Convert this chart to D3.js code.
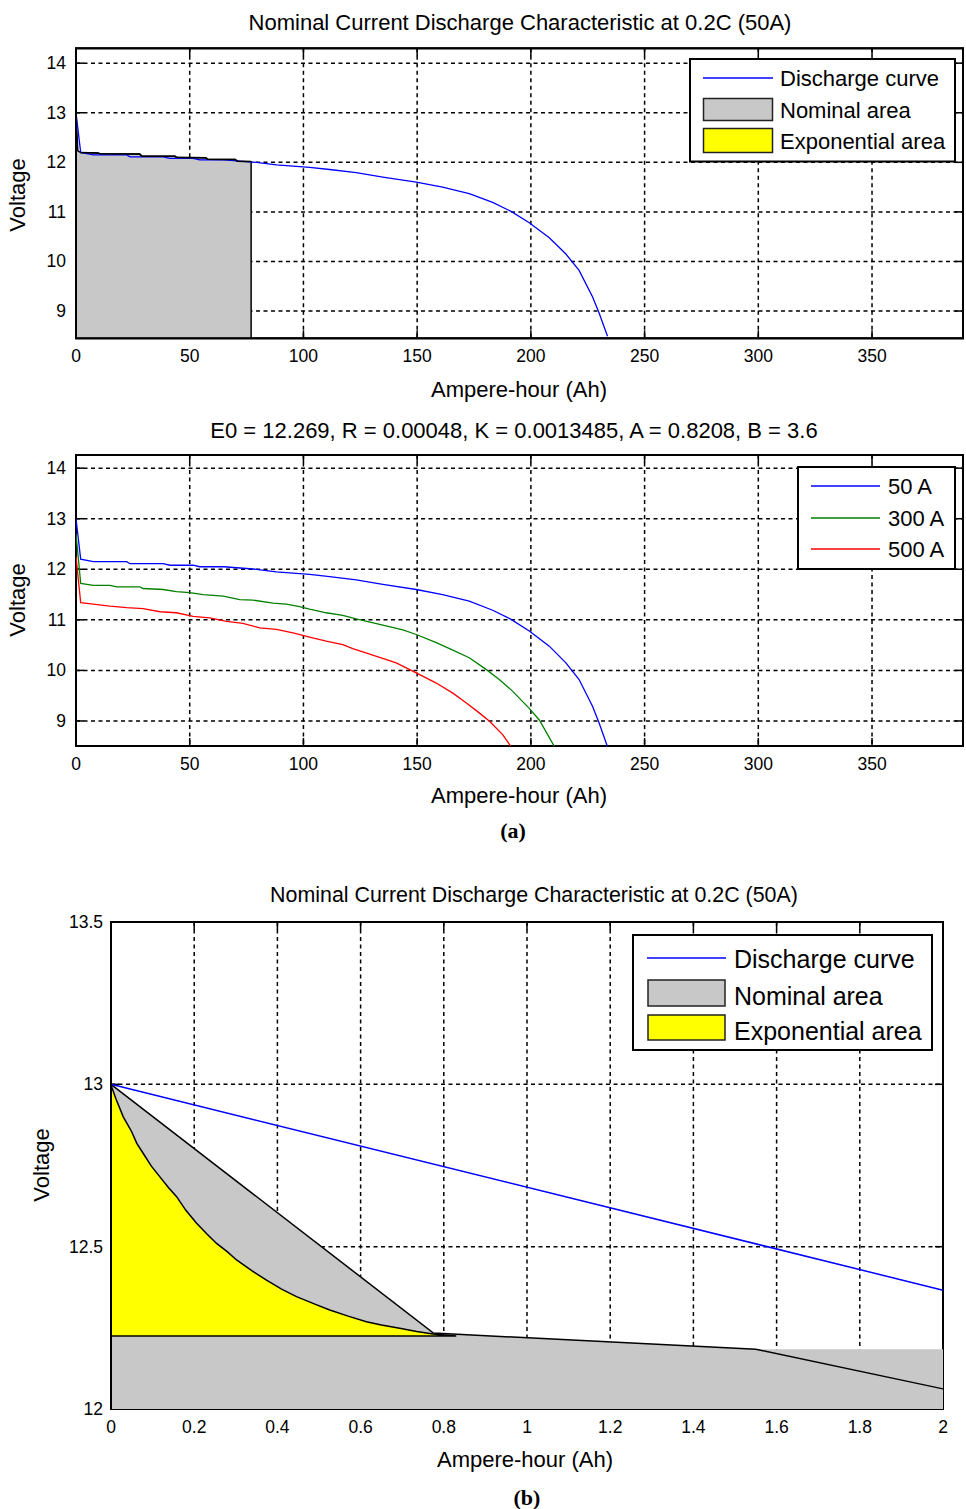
<!DOCTYPE html>
<html><head><meta charset="utf-8">
<script src="https://cdn.jsdelivr.net/npm/d3@7"></script>
<style>
body{margin:0;background:#fff;}
text{font-family:"Liberation Sans",Arial,sans-serif;fill:#000;}
</style></head>
<body>
<svg id="c" width="966" height="1509"></svg>
<script>
// ---------------- DATA ----------------
const titleA1 = "Nominal Current Discharge Characteristic at 0.2C (50A)";
const titleA2 = "E0 = 12.269, R = 0.00048, K = 0.0013485, A = 0.8208, B = 3.6";
const titleB = "Nominal Current Discharge Characteristic at 0.2C (50A)";
const xLabel = "Ampere-hour (Ah)";
const yLabel = "Voltage";
const xTicksA = [0,50,100,150,200,250,300,350];
const yTicksA = [9,10,11,12,13,14];
const xTicksB = [0,0.2,0.4,0.6,0.8,1,1.2,1.4,1.6,1.8,2];
const yTicksB = [12,12.5,13,13.5];
const legendA1 = ["Discharge curve","Nominal area","Exponential area"];
const legendA2 = ["50 A","300 A","500 A"];

// discharge curve at 50 A (Ah, V)
const ah50 = [0,2.06,7.6,22.3,23.7,38.3,41.3,51.5,54.4,65.1,79.3,88.1,102.7,111.5,123.2,134.9,149.6,161.2,172.9,183.2,191.3,199.3,208.1,215.4,221.2,227.1,230,233.7];
const v50  = [13.0,12.2,12.15,12.15,12.11,12.11,12.08,12.08,12.05,12.05,12.0,11.95,11.90,11.855,11.79,11.70,11.60,11.50,11.37,11.19,11.01,10.78,10.48,10.15,9.82,9.29,8.96,8.49];
// 300 A
const ah300 = [0,2.06,7.6,14.9,17.9,28.1,29.5,38.3,44.2,50,55.9,64.7,72,77.8,86.6,92.5,98.3,102.7,110,117.3,123.2,133.5,143.7,149.6,158.4,165.7,172.9,180.3,186.1,191.9,199.3,203.7,210.4];
const v300  = [12.7,11.72,11.68,11.68,11.65,11.65,11.62,11.60,11.56,11.54,11.50,11.47,11.40,11.39,11.33,11.31,11.26,11.21,11.14,11.09,11.02,10.91,10.80,10.71,10.55,10.40,10.25,10.02,9.82,9.59,9.25,9.02,8.49];
// 500 A
const ah500 = [0,2.06,7.6,14.9,22.3,29.5,36.9,44.2,51.5,58.8,66.2,73.4,80.8,88.1,95.4,102.7,110,117.3,121.7,133.5,140.8,149.6,158.4,165.7,171.5,177.3,181.7,187.6,191.3];
const v500  = [12.25,11.34,11.31,11.27,11.24,11.22,11.16,11.14,11.07,11.04,10.97,10.93,10.84,10.81,10.74,10.66,10.58,10.51,10.43,10.26,10.15,9.95,9.75,9.55,9.36,9.16,9.0,8.73,8.49];
// nominal area outline (panel a, top)
const ahNomA = [0,0.8,2,9.5,10.5,28,29,43.5,44.5,57,58,70,71,77];
const vNomA  = [13,12.23,12.2,12.19,12.175,12.17,12.12,12.12,12.095,12.09,12.06,12.055,12.02,12.014];
// zoomed panel (b)
const ahBlueB = [0,2];
const vBlueB  = [13,12.366];
const ahNomCurveB = [0,0.775,1.55,2];
const vNomCurveB  = [13,12.234,12.184,12.062];
const ahNomFillB = [0,0.775,1.55,2];
const vNomFillB  = [13,12.234,12.184,12.184];
const ahExpB = [0,0.012,0.0295,0.0497,0.062,0.0776,0.097,0.1176,0.138,0.1577,0.18,0.2058,0.23,0.2538,0.28,0.3018,0.34,0.3738,0.41,0.4459,0.49,0.5258,0.57,0.6139,0.65,0.6939,0.735,0.7738,0.83];
const vExpB  = [12.998,12.955,12.900,12.854,12.818,12.787,12.748,12.715,12.682,12.654,12.612,12.572,12.540,12.510,12.484,12.459,12.425,12.397,12.369,12.346,12.323,12.305,12.286,12.269,12.259,12.249,12.239,12.231,12.225];
const vExpBase = 12.225;

// --------------- DRAWING ---------------
const svg = d3.select("#c");
svg.append("rect").attr("width",966).attr("height",1509).attr("fill","#fff");
const FONT_TICK = 17.5, FONT_LAB = 22;
const zip = (a,b)=>a.map((d,i)=>[d,b[i]]);

function panel(cfg){
  const g = svg.append("g");
  const x = d3.scaleLinear().domain(cfg.xd).range(cfg.xr);
  const y = d3.scaleLinear().domain(cfg.yd).range(cfg.yr);
  const [x0,x1] = cfg.xr, [y0,y1] = [cfg.yr[1], cfg.yr[0]];
  const id = "clip"+cfg.id;
  svg.append("clipPath").attr("id",id).append("rect")
     .attr("x",x0).attr("y",y0).attr("width",x1-x0).attr("height",y1-y0);
  // grid
  const grid = g.append("g").attr("stroke","#000").attr("stroke-width",1.5).attr("stroke-dasharray","4,3.5");
  cfg.xt.filter(v=>x(v)>x0+2 && x(v)<x1-2).forEach(v=>grid.append("line").attr("x1",x(v)).attr("x2",x(v)).attr("y1",y0).attr("y2",y1));
  cfg.yt.filter(v=>y(v)>y0+2 && y(v)<y1-2).forEach(v=>grid.append("line").attr("x1",x0).attr("x2",x1).attr("y1",y(v)).attr("y2",y(v)));
  // box + ticks
  const box = g.append("g").attr("stroke","#000").attr("stroke-width",2).attr("fill","none");
  box.append("rect").attr("x",x0).attr("y",y0).attr("width",x1-x0).attr("height",y1-y0);
  const tl = 8;
  const tk = g.append("g").attr("stroke","#000").attr("stroke-width",1.5);
  cfg.xt.forEach(v=>{tk.append("line").attr("x1",x(v)).attr("x2",x(v)).attr("y1",y0).attr("y2",y0+tl);
                     tk.append("line").attr("x1",x(v)).attr("x2",x(v)).attr("y1",y1).attr("y2",y1-tl);});
  cfg.yt.forEach(v=>{tk.append("line").attr("x1",x0).attr("x2",x0+tl).attr("y1",y(v)).attr("y2",y(v));
                     tk.append("line").attr("x1",x1).attr("x2",x1-tl).attr("y1",y(v)).attr("y2",y(v));});
  // tick labels
  const fmt = d=>String(d);
  g.append("g").selectAll("text").data(cfg.xt).join("text")
    .attr("x",d=>x(d)).attr("y",y1+cfg.xtOff).attr("text-anchor","middle").attr("font-size",FONT_TICK).text(fmt);
  g.append("g").selectAll("text").data(cfg.yt).join("text")
    .attr("x",x0-cfg.ytOff).attr("y",d=>y(d)+6).attr("text-anchor","end").attr("font-size",FONT_TICK).text(fmt);
  // labels
  g.append("text").attr("x",cfg.title[1]).attr("y",cfg.title[2]).attr("text-anchor","middle").attr("font-size",cfg.titleSize).text(cfg.title[0]);
  g.append("text").attr("x",cfg.xlab[0]).attr("y",cfg.xlab[1]).attr("text-anchor","middle").attr("font-size",FONT_LAB).text(xLabel);
  g.append("text").attr("transform",`translate(${cfg.ylab[0]},${cfg.ylab[1]}) rotate(-90)`).attr("text-anchor","middle").attr("font-size",FONT_LAB).text(yLabel);
  const plot = g.append("g").attr("clip-path",`url(#${id})`);
  return {g,x,y,plot};
}

function lineGen(p){ return d3.line().x(d=>p.x(d[0])).y(d=>p.y(d[1])); }

// ===== Panel a-1 =====
const p1 = panel({id:1, xd:[0,390], xr:[76,963], yd:[8.45,14.3], yr:[338.3,48.3],
  xt:xTicksA, yt:yTicksA, xtOff:24, ytOff:10, titleSize:22,
  title:[titleA1,520,30], xlab:[519,397], ylab:[25,195]});
{
  const nom = zip(ahNomA,vNomA);
  const poly = [[0,8.45]].concat(nom).concat([[ahNomA[ahNomA.length-1],8.45]]);
  p1.plot.append("path").attr("d",lineGen(p1)(poly)+"Z").attr("fill","#c8c8c8").attr("stroke","#000").attr("stroke-width",1.5);
  p1.plot.append("path").attr("d",lineGen(p1)(zip(ah50,v50))).attr("fill","none").attr("stroke","#0000ff").attr("stroke-width",1.3);
  p1.plot.append("path").attr("d",lineGen(p1)(nom.slice(2))).attr("fill","none").attr("stroke","#000").attr("stroke-width",1.5);
  p1.g.append("rect").attr("x",76).attr("y",48.3).attr("width",887).attr("height",290).attr("fill","none").attr("stroke","#000").attr("stroke-width",2);
  const L = p1.g.append("g");
  L.append("rect").attr("x",690).attr("y",59).attr("width",265).attr("height",102.5).attr("fill","#fff").attr("stroke","#000").attr("stroke-width",2);
  L.append("line").attr("x1",703).attr("x2",773).attr("y1",78).attr("y2",78).attr("stroke","#0000ff").attr("stroke-width",1.3);
  L.append("rect").attr("x",703.5).attr("y",98.5).attr("width",69).attr("height",22).attr("fill","#c8c8c8").attr("stroke","#222").attr("stroke-width",1.5);
  L.append("rect").attr("x",703.5).attr("y",128.5).attr("width",69).attr("height",24).attr("fill","#ffff00").attr("stroke","#222").attr("stroke-width",1.5);
  L.selectAll("text.l").data(legendA1).join("text").attr("x",780).attr("y",(d,i)=>[86,118,149][i]).attr("font-size",22).text(d=>d);
}

// ===== Panel a-2 =====
const p2 = panel({id:2, xd:[0,390], xr:[76,963], yd:[8.505,14.26], yr:[746,455],
  xt:xTicksA, yt:yTicksA, xtOff:24, ytOff:10, titleSize:22,
  title:[titleA2,514,438], xlab:[519,803], ylab:[25,600]});
{
  const series = [[ah50,v50,"#0000ff"],[ah300,v300,"#008000"],[ah500,v500,"#ff0000"]];
  series.forEach(s=>p2.plot.append("path").attr("d",lineGen(p2)(zip(s[0],s[1]))).attr("fill","none").attr("stroke",s[2]).attr("stroke-width",1.3));
  const L = p2.g.append("g");
  L.append("rect").attr("x",798).attr("y",467).attr("width",157).attr("height",102).attr("fill","#fff").attr("stroke","#000").attr("stroke-width",2);
  const ys=[486,518,549];
  series.forEach((s,i)=>L.append("line").attr("x1",811).attr("x2",880).attr("y1",ys[i]).attr("y2",ys[i]).attr("stroke",s[2]).attr("stroke-width",1.3));
  L.selectAll("text.l").data(legendA2).join("text").attr("x",888).attr("y",(d,i)=>ys[i]+8).attr("font-size",22).text(d=>d);
}
svg.append("text").attr("x",513).attr("y",838).attr("text-anchor","middle").attr("font-size",22).attr("font-weight","bold")
  .style("font-family","'Liberation Serif','Times New Roman',serif").text("(a)");

// ===== Panel b =====
const p3 = panel({id:3, xd:[0,2], xr:[111,943], yd:[12,13.5], yr:[1409,922],
  xt:xTicksB, yt:yTicksB, xtOff:24, ytOff:8, titleSize:21.4,
  title:[titleB,534,902], xlab:[525,1467], ylab:[49,1165]});
{
  const lg = lineGen(p3);
  const fill = [[0,12]].concat(zip(ahNomFillB,vNomFillB)).concat([[2,12]]);
  p3.g.append("path").attr("d",lg(fill)+"Z").attr("fill","#c8c8c8").attr("stroke","none");
  const exp = zip(ahExpB,vExpB);
  const ypoly = exp.concat([[0,vExpBase]]);
  p3.g.append("path").attr("d",lg(ypoly)+"Z").attr("fill","#ffff00").attr("stroke","#000").attr("stroke-width",1.5);
  p3.g.append("path").attr("d",lg(zip(ahNomCurveB,vNomCurveB))).attr("fill","none").attr("stroke","#000").attr("stroke-width",1.5);
  p3.g.append("path").attr("d",lg(zip(ahBlueB,vBlueB))).attr("fill","none").attr("stroke","#0000ff").attr("stroke-width",1.5);
  p3.g.append("line").attr("x1",111).attr("x2",111).attr("y1",922).attr("y2",1409).attr("stroke","#000").attr("stroke-width",2);
  const L = p3.g.append("g");
  L.append("rect").attr("x",633).attr("y",935).attr("width",299).attr("height",115).attr("fill","#fff").attr("stroke","#000").attr("stroke-width",2);
  L.append("line").attr("x1",647).attr("x2",726).attr("y1",958).attr("y2",958).attr("stroke","#0000ff").attr("stroke-width",1.5);
  L.append("rect").attr("x",648).attr("y",980).attr("width",77).attr("height",26).attr("fill","#c8c8c8").attr("stroke","#222").attr("stroke-width",1.5);
  L.append("rect").attr("x",648).attr("y",1015).attr("width",77).attr("height",25).attr("fill","#ffff00").attr("stroke","#222").attr("stroke-width",1.5);
  L.selectAll("text.l").data(legendA1).join("text").attr("x",734).attr("y",(d,i)=>[968,1005,1040][i]).attr("font-size",25).text(d=>d);
}
svg.append("text").attr("x",527).attr("y",1505).attr("text-anchor","middle").attr("font-size",22).attr("font-weight","bold")
  .style("font-family","'Liberation Serif','Times New Roman',serif").text("(b)");
</script>
</body></html>
